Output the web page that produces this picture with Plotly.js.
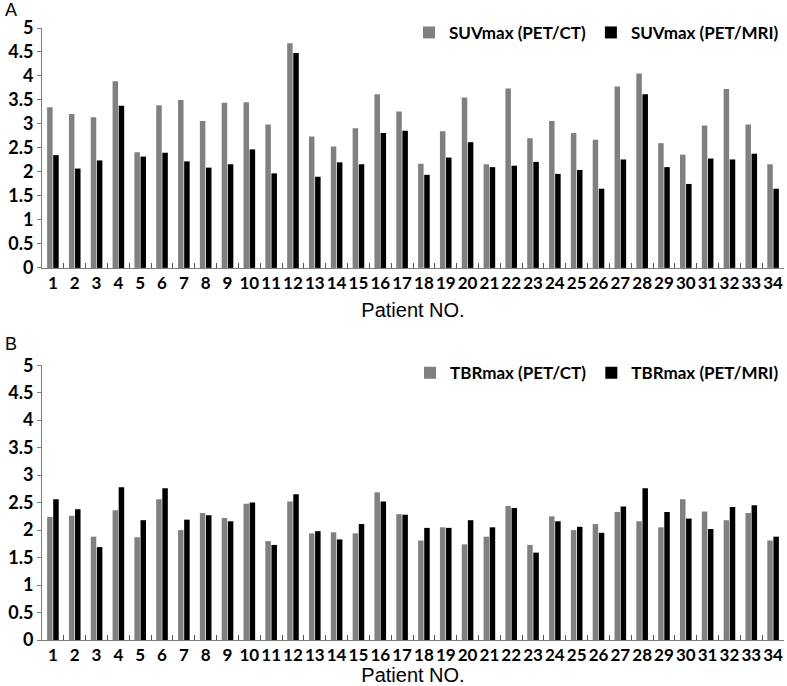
<!DOCTYPE html>
<html>
<head>
<meta charset="utf-8">
<script src="https://cdn.plot.ly/plotly-3.0.1.min.js"></script>
<style>html,body{margin:0;padding:0;background:#fff;}#chart{width:787px;height:686px;}</style>
</head>
<body>
<div id="chart"></div>
<script>
const patients = ['1','2','3','4','5','6','7','8','9','10','11','12','13','14','15','16','17','18','19','20','21','22','23','24','25','26','27','28','29','30','31','32','33','34'];

const suvPetCt  = [3.35,3.21,3.14,3.89,2.41,3.39,3.50,3.06,3.44,3.45,2.99,4.68,2.74,2.53,2.91,3.62,3.26,2.17,2.85,3.55,2.16,3.74,2.70,3.06,2.81,2.67,3.78,4.05,2.60,2.36,2.97,3.73,2.99,2.16];
const suvPetMri = [2.35,2.07,2.24,3.38,2.32,2.40,2.22,2.09,2.16,2.47,1.97,4.48,1.90,2.20,2.16,2.81,2.86,1.94,2.30,2.62,2.10,2.13,2.21,1.96,2.04,1.65,2.26,3.62,2.10,1.75,2.28,2.26,2.38,1.65];

const tbrPetCt  = [2.24,2.26,1.88,2.36,1.87,2.56,2.00,2.31,2.22,2.48,1.80,2.52,1.94,1.96,1.94,2.69,2.29,1.81,2.05,1.74,1.88,2.44,1.73,2.25,2.00,2.11,2.33,2.16,2.05,2.56,2.34,2.18,2.31,1.81];
const tbrPetMri = [2.56,2.38,1.69,2.78,2.18,2.76,2.19,2.27,2.16,2.50,1.73,2.65,1.98,1.83,2.11,2.52,2.28,2.04,2.04,2.18,2.05,2.40,1.59,2.16,2.06,1.95,2.43,2.76,2.33,2.21,2.02,2.42,2.45,1.88];

const seriesNames = ['SUVmax (PET/CT)','SUVmax (PET/MRI)','TBRmax (PET/CT)','TBRmax (PET/MRI)'];
const yTicks = [0,0.5,1,1.5,2,2.5,3,3.5,4,4.5,5];
const yTickText = ['0','0.5','1','1.5','2','2.5','3','3.5','4','4.5','5'];

const GRAY = '#808080';
const BLACK = '#000000';
const xTickFont = {family: 'Lato, "Open Sans", sans-serif', size: 17, color: '#000', weight: 'bold'};
const yTickFont = {family: 'Lato, "Open Sans", sans-serif', size: 18, color: '#000', weight: 'bold'};
const titleFont = {family: '"Liberation Sans", Arial, sans-serif', size: 20, color: '#000'};

const traces = [
  {type:'bar', x: patients, y: suvPetCt,  name: seriesNames[0], marker:{color:GRAY},  xaxis:'x',  yaxis:'y',  legend:'legend',  hoverinfo:'x+y+name'},
  {type:'bar', x: patients, y: suvPetMri, name: seriesNames[1], marker:{color:BLACK}, xaxis:'x',  yaxis:'y',  legend:'legend',  hoverinfo:'x+y+name'},
  {type:'bar', x: patients, y: tbrPetCt,  name: seriesNames[2], marker:{color:GRAY},  xaxis:'x2', yaxis:'y2', legend:'legend2', hoverinfo:'x+y+name'},
  {type:'bar', x: patients, y: tbrPetMri, name: seriesNames[3], marker:{color:BLACK}, xaxis:'x2', yaxis:'y2', legend:'legend2', hoverinfo:'x+y+name'}
];

function xAxis(anchor) {
  return {
    anchor: anchor, type: 'category', domain: [0, 1],
    showline: true, linecolor: '#7f7f7f', linewidth: 1,
    ticks: 'inside', tickson: 'boundaries', ticklen: 5, tickcolor: '#555', tickwidth: 1,
    tickfont: xTickFont, tickangle: 0, showgrid: false, zeroline: false,
    title: {text: 'Patient NO.', font: titleFont, standoff: 10}
  };
}
function yAxis(anchor, domain) {
  return {
    anchor: anchor, domain: domain, range: [0, 5],
    tickmode: 'array', tickvals: yTicks, ticktext: yTickText,
    showline: true, linecolor: '#7f7f7f', linewidth: 1,
    ticks: 'outside', ticklen: 4, tickcolor: '#7f7f7f',
    tickfont: yTickFont, showgrid: false, zeroline: false
  };
}

const legendFont = {family: 'Lato, "Open Sans", sans-serif', size: 17, color: '#000', weight: 'bold'};
function legendAt(y) {
  return {orientation: 'h', x: 1, xanchor: 'right', y: y, yanchor: 'middle', font: legendFont,
          bgcolor: 'rgba(0,0,0,0)', itemwidth: 30, traceorder: 'normal'};
}

const layout = {
  width: 787, height: 686,
  margin: {l: 42, r: 3, t: 28, b: 46, pad: 0},
  paper_bgcolor: '#fff', plot_bgcolor: '#fff',
  barmode: 'group', bargap: 0.44, bargroupgap: 0.1,
  showlegend: true,
  xaxis: xAxis('y'),
  yaxis: yAxis('x', [0.608, 1]),
  xaxis2: xAxis('y2'),
  yaxis2: yAxis('x2', [0, 0.449]),
  legend:  legendAt(0.992),
  legend2: legendAt(0.436),
  annotations: [
    {text: 'A', xref: 'paper', yref: 'paper', x: -0.053, y: 1.03, xanchor: 'left', yanchor: 'middle', showarrow: false, font: {family: '"Liberation Sans", Arial, sans-serif', size: 18, color: '#000'}},
    {text: 'B', xref: 'paper', yref: 'paper', x: -0.053, y: 0.484, xanchor: 'left', yanchor: 'middle', showarrow: false, font: {family: '"Liberation Sans", Arial, sans-serif', size: 18, color: '#000'}}
  ]
};

Plotly.newPlot('chart', traces, layout, {displayModeBar: false, staticPlot: true});
</script>
</body>
</html>
